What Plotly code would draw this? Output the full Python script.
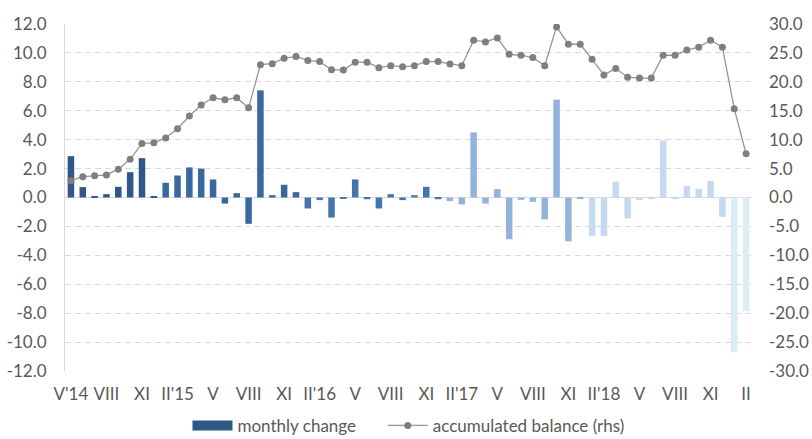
import plotly.graph_objects as go

# --- data -------------------------------------------------------------
months = [f"{y}-{m:02d}" for y in range(2014, 2020) for m in range(1, 13)]
months = months[months.index("2014-05"):months.index("2019-02") + 1]

monthly_change = [
    2.86, 0.72, 0.10, 0.23, 0.74, 1.75, 2.72, 0.10,            # 2014 V-XII
    1.02, 1.52, 2.08, 2.00, 1.25, -0.42, 0.30, -1.82,          # 2015 I-VIII
    7.41, 0.16, 0.88, 0.37,                                    # 2015 IX-XII
    -0.76, -0.18, -1.39, -0.10, 1.25, -0.12, -0.76, 0.23,      # 2016 I-VIII
    -0.18, 0.16, 0.74, -0.12,                                  # 2016 IX-XII
    -0.25, -0.48, 4.50, -0.42, 0.58, -2.89, -0.16, -0.30,      # 2017 I-VIII
    -1.52, 6.77, -3.03, -0.10,                                 # 2017 IX-XII
    -2.66, -2.66, 1.09, -1.45, -0.18, -0.10, 3.95, -0.10,      # 2018 I-VIII
    0.79, 0.58, 1.15, -1.34,                                   # 2018 IX-XII
    -10.70, -7.85,                                             # 2019 I-II
]

accumulated_balance = [
    2.90, 3.60, 3.75, 3.90, 4.90, 6.60, 9.35, 9.45,
    10.30, 11.90, 14.10, 16.00, 17.25, 16.90, 17.25, 15.50,
    22.97, 23.14, 24.06, 24.40,
    23.70, 23.50, 22.10, 22.04, 23.40, 23.40, 22.45, 22.80,
    22.60, 22.80, 23.50, 23.50,
    23.10, 22.80, 27.20, 26.90, 27.60, 24.75, 24.60, 24.20,
    22.80, 29.50, 26.50, 26.50,
    23.90, 21.20, 22.30, 20.80, 20.65, 20.65, 24.60, 24.60,
    25.50, 26.00, 27.20, 26.00,
    15.35, 7.56,
]

tick_months = months[::3]
tick_labels = ["V'14", "VIII", "XI", "II'15", "V", "VIII", "XI", "II'16", "V", "VIII",
               "XI", "II'17", "V", "VIII", "XI", "II'18", "V", "VIII", "XI", "II"]

left_ticks = [-12, -10, -8, -6, -4, -2, 0, 2, 4, 6, 8, 10, 12]
right_ticks = [-30, -25, -20, -15, -10, -5, 0, 5, 10, 15, 20, 25, 30]

# --- style ------------------------------------------------------------
year_colors = {
    "2014": "#2F5788",
    "2015": "#3A67A0",
    "2016": "#4773AE",
    "2017": "#94B3DA",
    "2018": "#C6D9F1",
    "2019": "#DAEDF3",
}
bar_colors = [year_colors[m[:4]] for m in months]
FONT = "Lato, 'Open Sans', sans-serif"
TXT = "#595959"
GRID = "#D9D9D9"

fig = go.Figure()
fig.add_trace(go.Bar(
    x=months, y=monthly_change, name="monthly change",
    marker=dict(color=bar_colors, line=dict(width=0)),
    yaxis="y", showlegend=False,
))
# legend entry with a wide swatch, like the original
fig.add_trace(go.Scatter(
    x=[None], y=[None], name="monthly change     ", mode="lines",
    line=dict(color=year_colors["2014"], width=10), yaxis="y",
))
fig.add_trace(go.Scatter(
    x=months, y=accumulated_balance, name="accumulated balance (rhs)",
    mode="lines+markers",
    line=dict(color="#959595", width=1.3),
    marker=dict(color="#7F7F7F", size=7),
    yaxis="y2",
))

fig.update_layout(
    width=812, height=439,
    margin=dict(l=65, r=60, t=24, b=68, autoexpand=False),
    paper_bgcolor="white", plot_bgcolor="white",
    font=dict(family=FONT, size=17, color=TXT),
    bargap=0.45,
    showlegend=True,
    legend=dict(orientation="h", x=0.5, xanchor="center", y=-0.158, yanchor="middle",
                font=dict(size=17, color=TXT), traceorder="normal",
                itemwidth=40, tracegroupgap=0),
    xaxis=dict(
        type="category", categoryorder="array", categoryarray=months,
        tickmode="array", tickvals=tick_months, ticktext=tick_labels,
        showgrid=False, showline=False, ticks="", zeroline=False,
        range=[-0.5, len(months) - 0.5], ticklabelstandoff=11,
    ),
    yaxis=dict(
        range=[-12, 12], tickmode="array", tickvals=left_ticks,
        ticktext=[f"{v:.1f}" for v in left_ticks],
        showgrid=True, gridcolor=GRID, griddash="6px,4px", gridwidth=1,
        zeroline=True, zerolinecolor=GRID, zerolinewidth=1,
        showline=True, linecolor=GRID, linewidth=1, ticks="",
        ticklabelstandoff=14,
    ),
    yaxis2=dict(
        range=[-30, 30], tickmode="array", tickvals=right_ticks,
        ticktext=[f"{v:.1f}" for v in right_ticks],
        overlaying="y", side="right", showgrid=False, zeroline=False,
        showline=False, ticks="", ticklabelstandoff=16,
    ),
)

fig.write_html(
    "out.html",
    config={"displayModeBar": False},
    post_script="document.body.style.margin='0';document.body.style.overflow='hidden';",
)
